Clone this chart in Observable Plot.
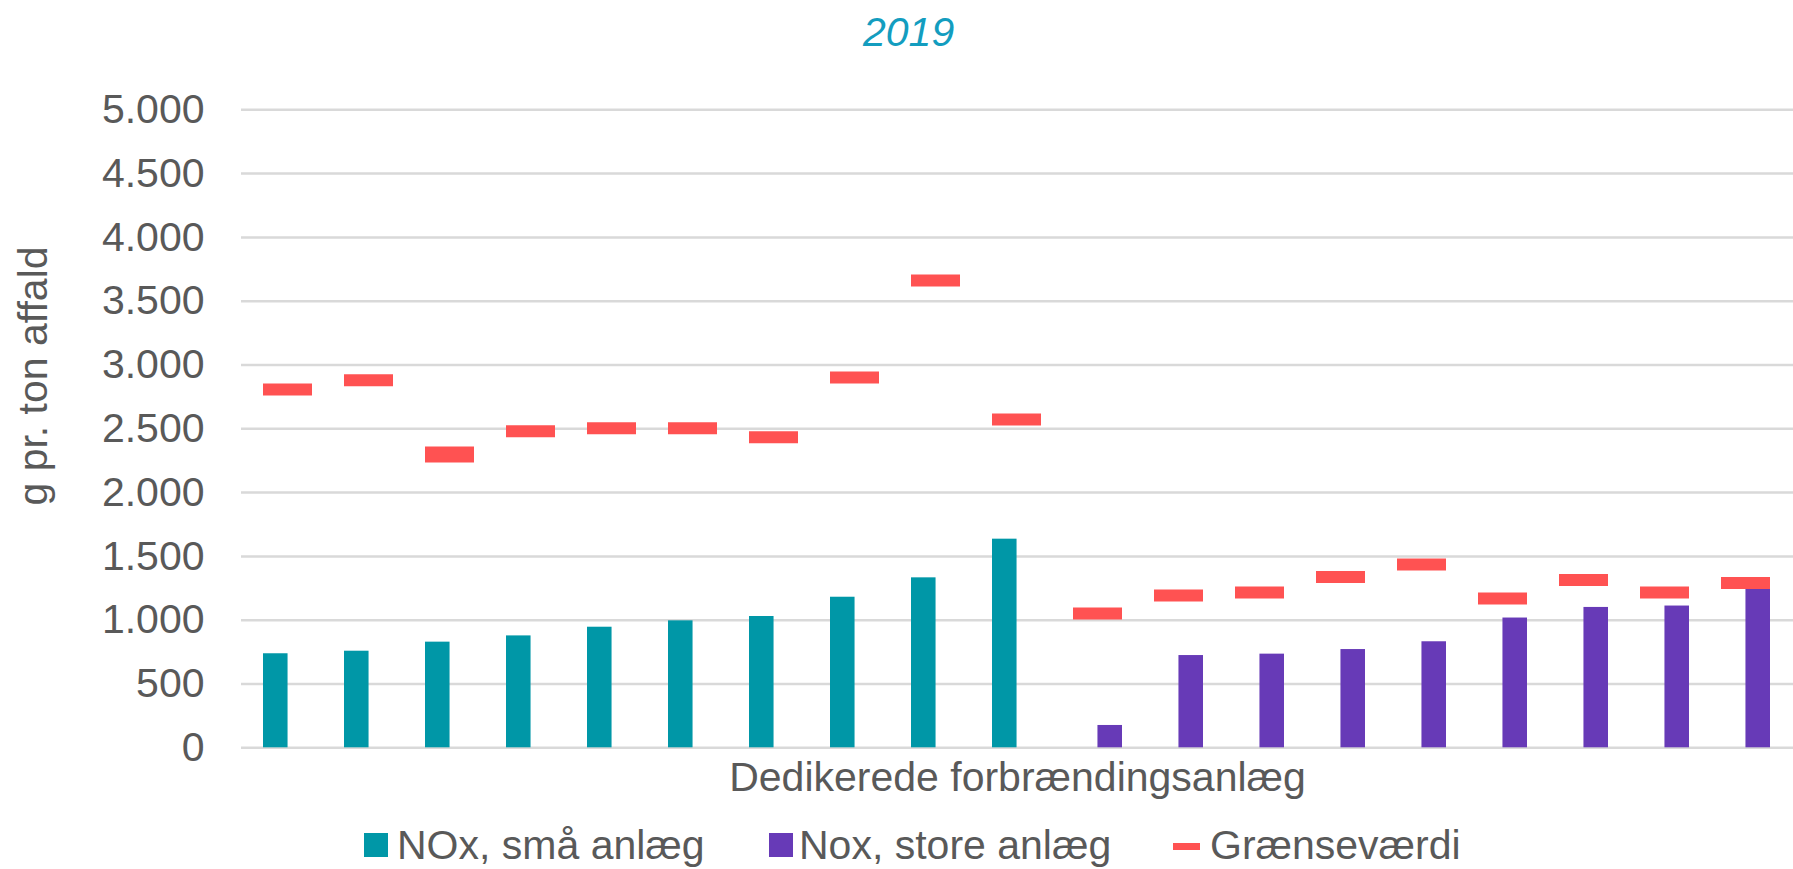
<!DOCTYPE html>
<html>
<head>
<meta charset="utf-8">
<script src="https://cdn.jsdelivr.net/npm/d3@7"></script>
<script src="https://cdn.jsdelivr.net/npm/@observablehq/plot@0.6"></script>
<style>
  body { margin: 0; background: #fff; font-family: "Liberation Sans", Arial, sans-serif; }
  #wrap { position: relative; width: 1793px; height: 869px; overflow: hidden; background: #fff; }
  #plot { position: absolute; left: 0; top: 60px; }
  .t { position: absolute; font-size: 41px; line-height: 41px; color: #595959; white-space: nowrap; }
  .sw { position: absolute; }
</style>
</head>
<body>
<div id="wrap"></div>
<script>
// ---- data ----
const titleText = "2019";
const yLabel = "g pr. ton affald";
const xLabel = "Dedikerede forbrændingsanlæg";
const seriesNames = ["NOx, små anlæg", "Nox, store anlæg", "Grænseværdi"];
const seriesColors = ["#0097A7", "#673AB7", "#FF5252"];
const categories = ["1","2","3","4","5","6","7","8","9","10","11","12","13","14","15","16","17","18","19"];
const smallPlantValues = [737, 757, 828, 877, 945, 995, 1029, 1180, 1332, 1635];
const largePlantValues = [175, 723, 734, 770, 831, 1017, 1100, 1111, 1265];
const limitValues = [2808, 2880, 2315, 2480, 2504, 2504, 2433, 2903, 3663, 2573,
                     1052, 1194, 1217, 1339, 1436, 1170, 1315, 1217, 1291];
// a second, nearly overlapping limit marker drawn at plant 3
const extraLimitPlants = ["3"];
const extraLimitValues = [2283];
const yTicks = [0, 500, 1000, 1500, 2000, 2500, 3000, 3500, 4000, 4500, 5000];
const yTickLabels = ["0", "500", "1.000", "1.500", "2.000", "2.500", "3.000", "3.500", "4.000", "4.500", "5.000"];

// ---- tables ----
const small = smallPlantValues.map((v, i) => ({plant: categories[i], value: v}));
const large = largePlantValues.map((v, i) => ({plant: categories[smallPlantValues.length + i], value: v}));
const limits = limitValues.map((v, i) => ({plant: categories[i], value: v}))
  .concat(extraLimitValues.map((v, i) => ({plant: extraLimitPlants[i], value: v})));
const tickLabelMap = new Map(yTicks.map((t, i) => [t, yTickLabels[i]]));

const font = '"Liberation Sans", Arial, sans-serif';
const grey = "#595959";

const chart = Plot.plot({
  width: 1793,
  height: 755,
  marginLeft: 241,
  marginRight: 0,
  marginTop: 49.3,
  marginBottom: 67.7,
  style: {fontFamily: font, fontSize: "41px", background: "transparent", overflow: "visible"},
  x: {domain: categories, range: [242, 1791.3], paddingInner: 0.4, paddingOuter: 0.2, axis: null},
  y: {domain: [0, 5000], axis: null},
  marks: [
    Plot.gridY(yTicks, {stroke: "#d9d9d9", strokeOpacity: 1, strokeWidth: 2.5}),
    Plot.axisY(yTicks, {tickSize: 0, tickPadding: 37, tickFormat: d => tickLabelMap.get(d),
                        fill: grey, fontSize: 41, label: null}),
    Plot.barY(small, {x: "plant", y: "value", fill: seriesColors[0], insetRight: 24.45}),
    Plot.barY(large, {x: "plant", y: "value", fill: seriesColors[1], insetLeft: 24.45}),
    Plot.tickY(limits, {x: "plant", y: "value", stroke: seriesColors[2], strokeWidth: 12}),
    Plot.text([yLabel], {text: d => d, frameAnchor: "left", rotate: -90, dx: -195, dy: -52.8,
                         lineAnchor: "bottom", textAnchor: "middle", fill: grey, fontSize: 41}),
    Plot.text([xLabel], {text: d => d, frameAnchor: "bottom", dy: 43.4,
                         lineAnchor: "bottom", textAnchor: "middle", fill: grey, fontSize: 41})
  ]
});

const wrap = document.getElementById("wrap");

// title
const title = document.createElement("div");
title.className = "t";
title.textContent = titleText;
title.style.left = "863px";
title.style.top = "12.3px";
title.style.fontStyle = "italic";
title.style.color = "#139DBF";
wrap.appendChild(title);

const holder = document.createElement("div");
holder.id = "plot";
holder.appendChild(chart);
wrap.appendChild(holder);

// legend
const legendItems = [
  {name: seriesNames[0], color: seriesColors[0], sw: {l: 364, t: 833, w: 24, h: 24}, tx: 397},
  {name: seriesNames[1], color: seriesColors[1], sw: {l: 769, t: 833, w: 24, h: 24}, tx: 799},
  {name: seriesNames[2], color: seriesColors[2], sw: {l: 1173, t: 842.5, w: 27, h: 7}, tx: 1210}
];
for (const it of legendItems) {
  const s = document.createElement("div");
  s.className = "sw";
  s.style.left = it.sw.l + "px";
  s.style.top = it.sw.t + "px";
  s.style.width = it.sw.w + "px";
  s.style.height = it.sw.h + "px";
  s.style.background = it.color;
  wrap.appendChild(s);
  const t = document.createElement("div");
  t.className = "t";
  t.textContent = it.name;
  t.style.left = it.tx + "px";
  t.style.top = "825.3px";
  wrap.appendChild(t);
}
</script>
</body>
</html>
